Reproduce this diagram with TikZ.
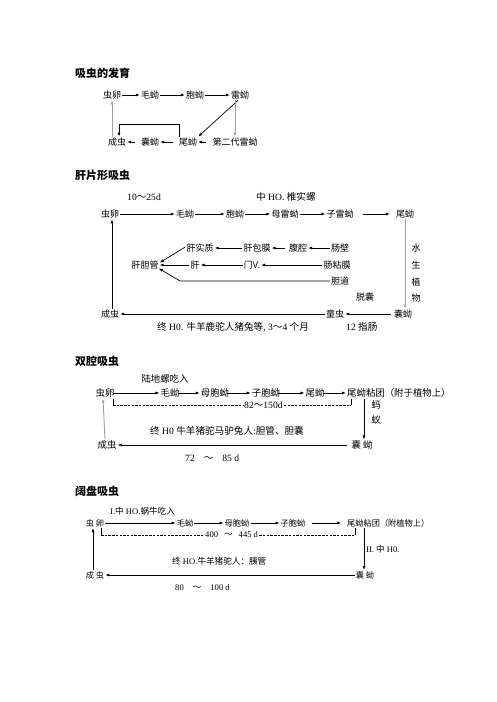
\documentclass[tikz,border=0pt]{standalone}
\usepackage{fontspec}
\setmainfont{Liberation Serif}
\newfontfamily\cjk{Noto Sans CJK SC}
\newcommand\zh[1]{{\cjk #1}}
\usetikzlibrary{arrows.meta}
\tikzset{
  zh/.style={inner sep=1pt, font=\cjk\fontsize{9}{10}\selectfont},
  zb/.style={inner sep=1pt, font=\cjk\fontsize{9.4}{10}\selectfont},
  zs/.style={inner sep=1pt, font=\cjk\fontsize{8.2}{9}\selectfont},
  lt/.style={inner sep=1pt, anchor=west, font=\fontsize{9.6}{10}\selectfont},
  lts/.style={inner sep=1pt, anchor=west, font=\fontsize{8.6}{9}\selectfont},
  ttl/.style={anchor=west, inner sep=0pt, font=\cjk\bfseries\fontsize{11}{12}\selectfont},
  ar/.style={-{Latex[length=4pt,width=3pt]}, line width=0.7pt},
  ln/.style={line width=0.7pt},
  gr/.style={draw=gray!75, line width=0.9pt},
  dsh/.style={line width=0.7pt, dash pattern=on 2.5pt off 1.2pt},
}
\begin{document}
\begin{tikzpicture}[x=1pt,y=-1pt]
\useasboundingbox (0,0) rectangle (496,702);

% ---------- Diagram 1 ----------
\node[ttl] (t1) at (75,73) {吸虫的发育};
\node[zh] (a1) at (112,95) {虫卵};
\node[zh] (b1) at (150,95) {毛蚴};
\node[zh] (c1) at (195,95) {胞蚴};
\node[zh] (d1) at (240,95) {雷蚴};
\node[zh] (e1) at (117,142) {成虫};
\node[zh] (f1) at (150,142) {囊蚴};
\node[zh] (g1) at (188,142) {尾蚴};
\node[zh] (h1) at (235,142) {第二代雷蚴};
\draw[ar] (a1.east) -- (b1.west);
\draw[ar] (b1.east) -- (c1.west);
\draw[ar] (c1.east) -- (d1.west);
\draw[ar] ([xshift=-2pt]d1.south) -- (g1.north east);
\draw[ar,gr] (h1.north |- d1.south) -- (h1.north);
\draw[ar, shorten <=5pt] (f1.west) -- (e1.east);
\draw[ar, shorten <=5pt] (g1.west) -- (f1.east);
\draw[ar, shorten <=5pt] (h1.west) -- (g1.east);
\draw[ar] ([xshift=2pt]g1.north west) -- ++(0,-12) -| ([xshift=2pt]e1.north);
\draw[ar,gr] (a1.south |- e1.north) -- (a1.south);

% ---------- Diagram 2 ----------
\node[ttl] (t2) at (75,175) {肝片形吸虫};
\node[lt] (l21) at (126,197) {10\zh{～}25d};
\node[lt] (l22) at (255,197) {\zh{中} HO. \zh{椎实螺}};
\node[zh] (a2) at (110,214) {虫卵};
\node[zh] (b2) at (185,214) {毛蚴};
\node[zh] (c2) at (235,214) {胞蚴};
\node[zh] (d2) at (285,214) {母雷蚴};
\node[zh] (e2) at (340,214) {子雷蚴};
\node[zh] (f2) at (405,214) {尾蚴};
\draw[ar] (a2.east) -- (b2.west);
\draw[ar] (b2.east) -- (c2.west);
\draw[ar] (c2.east) -- (d2.west);
\draw[ar] (d2.east) -- (e2.west);
\draw[ar, shorten <=8pt, shorten >=5pt] (e2.east) -- (f2.west);
\node[zh] (w1) at (416,248) {水};
\node[zh] (w2) at (416,265) {生};
\node[zh] (w3) at (416,282) {植};
\node[zh] (w4) at (416,298) {物};
\node[zh] (g2) at (403,314) {囊蚴};
\node[zh] (h2) at (335,314) {童虫};
\node[zh] (i2) at (110,314) {成虫};
\node[zh] (tn) at (365,297) {脱囊};
\node[lt] (l23) at (345,327) {12 \zh{指肠}};
\node[lt] (l24) at (156,327) {\zh{终} H0. \zh{牛羊鹿驼人猪兔等}, 3\zh{～}4 \zh{个月}};
\draw[ar,gr] (f2.south) -- (f2.south |- g2.north);
\draw[ar, shorten <=2pt] (g2.west) -- (h2.east);
\draw[ar] (h2.west) -- (i2.east);
\draw[ar] ([xshift=2pt]i2.north) -- ([xshift=2pt]a2.south);
% middle
\node[zh] (j2) at (200,248) {肝实质};
\node[zh] (k2) at (257,248) {肝包膜};
\node[zh] (l2) at (298,248) {腹腔};
\node[zh] (m2) at (340,248) {肠壁};
\node[zh] (n2) at (145,265) {肝胆管};
\node[zh] (o2) at (195,265) {肝};
\node[zh] (p2) at (252,265) {门V.};
\node[zh] (q2) at (337,265) {肠粘膜};
\node[zh] (r2) at (340,281) {胆道};
\draw[ar] (m2.west) -- (l2.east);
\draw[ar, shorten <=3pt] (l2.west) -- (k2.east);
\draw[ar] (k2.west) -- (j2.east);
\draw[ar] ([yshift=1pt]j2.west) -- ([yshift=-3pt]n2.north east);
\draw[ar] (q2.west) -- (p2.east);
\draw[ar] (p2.west) -- (o2.east);
\draw[ar] (o2.west) -- (n2.east);
\coordinate (r2b) at (180,281);
\draw[ar] (r2.west) -- (r2b) -- ([yshift=2pt,xshift=-1pt]n2.south east);

% ---------- Diagram 3 ----------
\node[ttl] (t3) at (75,361) {双腔吸虫};
\node[zb] (l31) at (165,379) {陆地螺吃入};
\node[zb] (a3) at (105,393) {虫卵};
\node[zb] (b3) at (170,393) {毛蚴};
\node[zb] (c3) at (215,393) {母胞蚴};
\node[zb] (d3) at (266,393) {子胞蚴};
\node[zb] (e3) at (315,393) {尾蚴};
\node[zb, anchor=west] (f3) at (346,393) {尾蚴粘团（附于植物上）};
\draw[ar] ([xshift=-3pt]a3.east) -- (b3.west);
\draw[ar] ([xshift=-3pt]b3.east) -- (c3.west);
\draw[ar] ([xshift=-3pt]c3.east) -- (d3.west);
\draw[ar] ([xshift=-3pt]d3.east) -- (e3.west);
\draw[ar] ([xshift=-3pt]e3.east) -- (f3.west);
\node[lt] (l32) at (243,405) {82\zh{～}150d};
\coordinate (c31) at (113,405);
\coordinate (c32) at (351,405);
\draw[ln] ([xshift=8pt]a3.south) -- (c31);
\draw[dsh] (c31) -- (l32.west);
\draw[dsh] (l32.east) -- (c32);
\draw[ln] (c32) -- (c32 |- f3.south);
\node[zb] (g3) at (362,445) {囊 蚴};
\node[zb] (h3) at (107,445) {成虫};
\node[zb] (m31) at (376,405) {蚂};
\node[zb] (m32) at (376,420) {蚁};
\draw[ar] ([xshift=18pt]f3.south west) -- ([xshift=18pt]f3.south west |- g3.north);
\draw[ar, shorten <=3pt] (g3.west) -- (h3.east);
\draw[ar,gr] ([xshift=-2pt]h3.north) -- ([xshift=-2pt]a3.south);
\node[lt] (l33) at (149,431) {\zh{终} H0 \zh{牛羊猪驼马驴兔人}:\zh{胆管、胆囊}};
\node[lt] (l34) at (184,458) {72\hspace{9pt}\zh{～}\hspace{9pt}85 d};

% ---------- Diagram 4 ----------
\node[ttl] (t4) at (75,491) {阔盘吸虫};
\node[lts] (l41) at (109,511) {I.\zh{中} HO.\zh{蜗牛吃入}};
\node[zs] (a4) at (95,523) {虫 卵};
\node[zs] (b4) at (185,523) {毛蚴};
\node[zs] (c4) at (237,523) {母胞蚴};
\node[zs] (d4) at (293,523) {子胞蚴};
\node[zs, anchor=west] (e4) at (346,523) {尾蚴粘团（附植物上）};
\draw[ar] (a4.east) -- (b4.west);
\draw[ar] (b4.east) -- (c4.west);
\draw[ar] (c4.east) -- (d4.west);
\draw[ar, shorten <=5pt, shorten >=5pt] (d4.east) -- (e4.west);
\node[lts] (l42) at (204,535) {400\hspace{6pt}\zh{～}\hspace{6pt}445 d};
\coordinate (c41) at (101,535);
\coordinate (c42) at (355,535);
\draw[ln] ([xshift=6pt]a4.south) -- (c41);
\draw[dsh] (c41) -- (l42.west);
\draw[dsh] (l42.east) -- (c42);
\draw[ln] (c42) -- (c42 |- e4.south);
\node[zs] (g4) at (365,575) {囊 蚴};
\node[zs] (h4) at (95,575) {成 虫};
\node[lts] (l43) at (365,549) {II. \zh{中} H0.};
\draw[ar] ([xshift=18pt]e4.south west) -- ([xshift=18pt]e4.south west |- g4.north);
\draw[ar] (g4.west) -- (h4.east);
\draw[ar] ([xshift=-2pt]h4.north) -- ([xshift=-2pt]a4.south);
\node[lts] (l44) at (171,561) {\zh{终} HO.\zh{牛羊猪驼人：胰管}};
\node[lts] (l45) at (174,588) {80\hspace{9pt}\zh{～}\hspace{9pt}100 d};
\end{tikzpicture}
\end{document}
